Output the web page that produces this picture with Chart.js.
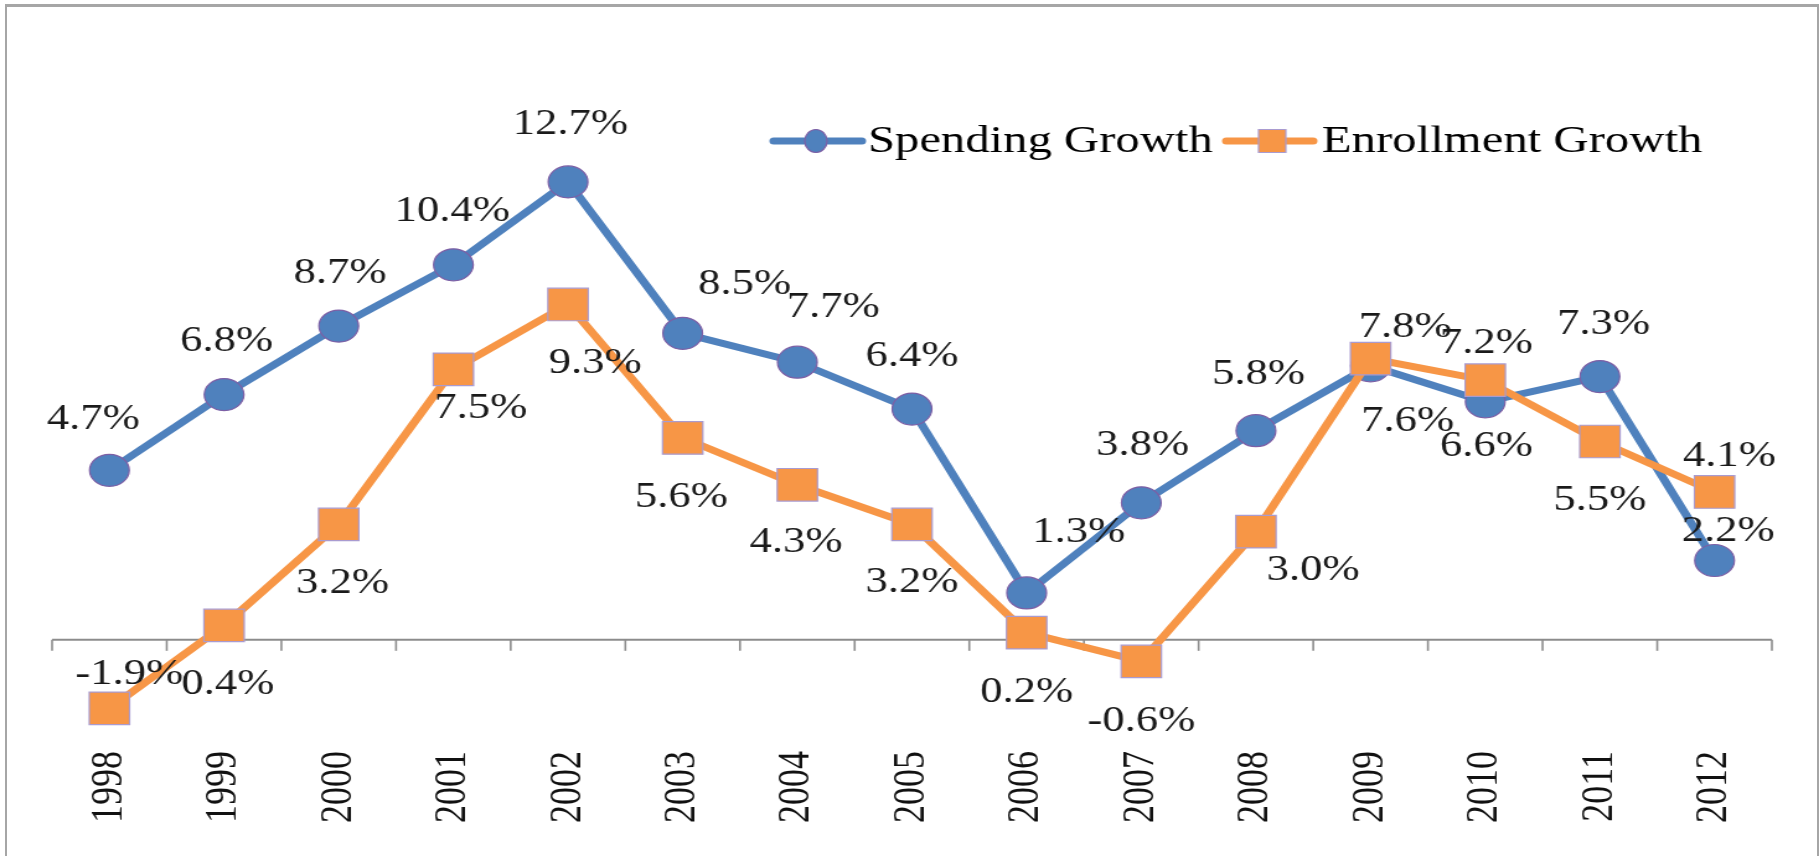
<!DOCTYPE html>
<html>
<head>
<meta charset="utf-8">
<script src="https://cdn.jsdelivr.net/npm/chart.js"></script>
<style>
  html, body { margin: 0; padding: 0; background: #ffffff; overflow: hidden; }
  #wrap { position: relative; width: 1819px; height: 856px; }
  #frame { position: absolute; left: 5px; top: 4px; width: 1810px; height: 900px;
           border-left: 2px solid #a6a6a6; border-top: 3px solid #a6a6a6; border-right: 2px solid #a6a6a6; }
  #c { position: absolute; left: 0; top: 0; width: 1819px; height: 856px; }
</style>
</head>
<body>
<div id="wrap">
  <div id="frame"></div>
  <canvas id="c" width="1467" height="856" style="width:1819px;height:856px;"></canvas>
</div>
<script>
// ---- data ----
const years = ['1998','1999','2000','2001','2002','2003','2004','2005','2006','2007','2008','2009','2010','2011','2012'];
const spendingGrowth   = [4.7, 6.8, 8.7, 10.4, 12.7, 8.5, 7.7, 6.4, 1.3, 3.8, 5.8, 7.6, 6.6, 7.3, 2.2];
const enrollmentGrowth = [-1.9, 0.4, 3.2, 7.5, 9.3, 5.6, 4.3, 3.2, 0.2, -0.6, 3.0, 7.8, 7.2, 5.5, 4.1];
const seriesNames = ['Spending Growth', 'Enrollment Growth'];

// ---- label placement (style, offsets from each point in px) ----
const spendingLabelOffsets = [[-13,-51],[2,-53],[1,-53],[-1,-53],[2,-57],[50,-49],[29,-55],[0,-53],[42,-60],[1,-57],[2,-56],[30,56],[1,45],[3,-52],[11,-29]];
const enrollmentLabelOffsets = [[16,-34],[3,59],[3,59],[22,39],[22,59],[-1,60],[-1,58],[0,58],[0,60],[0,60],[46,39],[28,-31],[1,-37],[0,59],[12,-35]];

const BLUE = '#4F81BD', ORANGE = '#F79646';
const FONT = '"Liberation Serif", "Times New Roman", serif';

const axisPlugin = {
  id: 'zeroAxis',
  beforeDatasetsDraw(chart) {
    const {ctx, chartArea, scales} = chart;
    const y0 = scales.y.getPixelForValue(0);
    const xs = scales.x;
    const n = years.length;
    const half = (xs.getPixelForValue(1) - xs.getPixelForValue(0)) / 2;
    ctx.save();
    ctx.strokeStyle = '#8c8c8c';
    ctx.lineWidth = 2;
    ctx.beginPath();
    ctx.moveTo(chartArea.left, y0);
    ctx.lineTo(chartArea.right, y0);
    ctx.stroke();
    ctx.lineWidth = 1.6;
    for (let i = 0; i <= n; i++) {
      const x = xs.getPixelForValue(0) - half + i * 2 * half;
      ctx.beginPath();
      ctx.moveTo(x, y0);
      ctx.lineTo(x, y0 + 11);
      ctx.stroke();
    }
    ctx.restore();
  }
};

const labelPlugin = {
  id: 'valueLabels',
  afterDatasetsDraw(chart) {
    const {ctx} = chart;
    const offsets = [spendingLabelOffsets, enrollmentLabelOffsets];
    ctx.save();
    ctx.font = '36px ' + FONT;
    ctx.fillStyle = '#1a1a1a';
    ctx.textAlign = 'center';
    ctx.textBaseline = 'middle';
    [0, 1].forEach(di => {
      const meta = chart.getDatasetMeta(di);
      const vals = chart.data.datasets[di].data;
      meta.data.forEach((pt, i) => {
        const [dx, dy] = offsets[di][i];
        ctx.fillText(vals[i].toFixed(1) + '%', pt.x + dx, pt.y + dy);
      });
    });
    ctx.restore();
  }
};

function fitText(ctx, text, x, y, targetW) {
  const w = ctx.measureText(text).width;
  const s = targetW / w;
  ctx.save();
  ctx.translate(x, y);
  ctx.scale(s, 1);
  ctx.fillText(text, 0, 0);
  ctx.restore();
}

const legendPlugin = {
  id: 'excelLegend',
  afterDraw(chart) {
    const {ctx} = chart;
    const y = 141;
    ctx.save();
    ctx.lineCap = 'round';
    // Spending
    ctx.strokeStyle = BLUE; ctx.lineWidth = 7;
    ctx.beginPath(); ctx.moveTo(624, y); ctx.lineTo(695, y); ctx.stroke();
    ctx.fillStyle = BLUE; ctx.strokeStyle = '#7D5FA5'; ctx.lineWidth = 1.2;
    ctx.beginPath(); ctx.ellipse(658, y, 9, 11.5, 0, 0, Math.PI * 2); ctx.fill(); ctx.stroke();
    // Enrollment
    ctx.strokeStyle = ORANGE; ctx.lineWidth = 7;
    ctx.beginPath(); ctx.moveTo(989, y); ctx.lineTo(1059, y); ctx.stroke();
    ctx.fillStyle = ORANGE; ctx.strokeStyle = '#A99BD0'; ctx.lineWidth = 1.2;
    ctx.beginPath(); ctx.rect(1015, y - 11.5, 22, 23); ctx.fill(); ctx.stroke();
    // text
    ctx.fillStyle = '#000';
    ctx.font = '38px ' + FONT;
    ctx.textAlign = 'left';
    ctx.textBaseline = 'middle';
    fitText(ctx, seriesNames[0], 700, y + 1, 278);
    fitText(ctx, seriesNames[1], 1066, y + 1, 307);
    ctx.restore();
  }
};

new Chart(document.getElementById('c'), {
  type: 'line',
  data: {
    labels: years,
    datasets: [
      {
        label: seriesNames[0],
        data: spendingGrowth,
        borderColor: BLUE,
        borderWidth: 7,
        backgroundColor: BLUE,
        pointStyle: 'circle',
        pointRadius: 16,
        pointBackgroundColor: BLUE,
        pointBorderColor: '#7D5FA5',
        pointBorderWidth: 1.2,
        tension: 0,
        order: 1
      },
      {
        label: seriesNames[1],
        data: enrollmentGrowth,
        borderColor: ORANGE,
        borderWidth: 7,
        backgroundColor: ORANGE,
        pointStyle: 'rect',
        pointRadius: 23,
        pointBackgroundColor: ORANGE,
        pointBorderColor: '#A99BD0',
        pointBorderWidth: 1.2,
        tension: 0,
        order: 0
      }
    ]
  },
  options: {
    responsive: false,
    animation: false,
    devicePixelRatio: 1,
    layout: { padding: { left: 42, right: 38, top: 135, bottom: 0 } },
    plugins: { legend: { display: false }, tooltip: { enabled: false } },
    scales: {
      x: {
        offset: true,
        grid: { display: false, drawTicks: false },
        border: { display: false },
        ticks: {
          autoSkip: false,
          minRotation: 90,
          maxRotation: 90,
          padding: 3,
          color: '#111',
          font: { family: FONT, size: 36 }
        },
        afterFit(scale) { scale.height = 108; }
      },
      y: {
        display: false,
        min: -3,
        max: 14
      }
    }
  },
  plugins: [axisPlugin, labelPlugin, legendPlugin]
});
</script>
</body>
</html>
